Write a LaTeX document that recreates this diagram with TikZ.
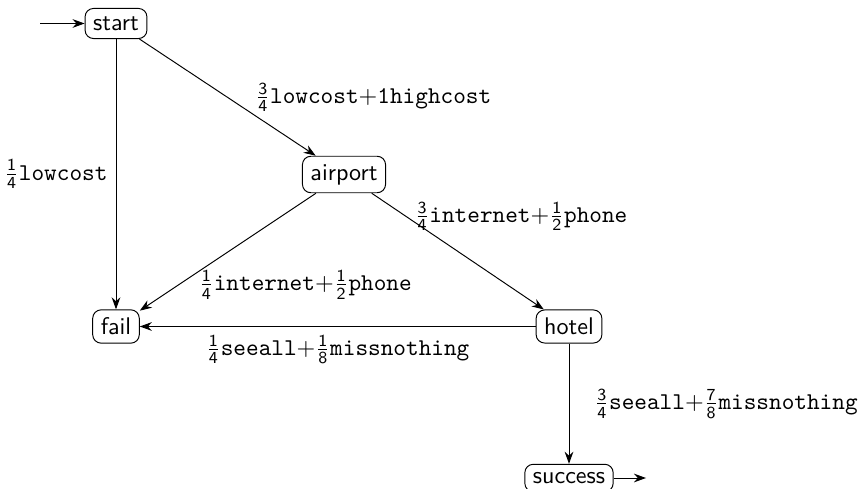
\documentclass[tikz,border=0pt]{standalone}
\usetikzlibrary{arrows.meta}
\newcommand{\fr}[2]{$\frac{\mathsf{#1}}{\mathsf{#2}}$}
\begin{document}
\begin{tikzpicture}[x=0.415pt,y=-0.415pt,st/.style={draw,rounded corners=3.5pt,font=\sffamily},lb/.style={font=\ttfamily},>={Stealth[length=5pt,width=3.6pt]}]
\useasboundingbox (0,0) rectangle (858,489);
\node[st] (S) at (116,23.5) {start};
\node[st] (A) at (344,174.5) {airport};
\node[st] (F) at (116,326.5) {fail};
\node[st] (H) at (569,326.5) {hotel};
\node[st] (U) at (569,478) {success};
\coordinate (in) at (40,23.5); \coordinate (out) at (646,478);
\draw[->] (in) -- (S);
\draw[->] (U) -- (out);
\draw[->] (S) -- node[lb,left] {\fr14lowcost} (F);
\draw[->] (S) -- node[lb,right,xshift=8pt] {\fr34lowcost$+$1highcost} (A);
\draw[->] (A) -- node[lb,pos=0.78,right,xshift=5pt] {\fr14internet$+$\fr12phone} (F);
\draw[->] (A) -- node[lb,pos=0.2,right] {\fr34internet$+$\fr12phone} (H);
\draw[->] (H) -- node[lb,below] {\fr14seeall$+$\fr18missnothing} (F);
\draw[->] (H) -- node[lb,right,xshift=7pt] {\fr34seeall$+$\fr78missnothing} (U);
\end{tikzpicture}
\end{document}
